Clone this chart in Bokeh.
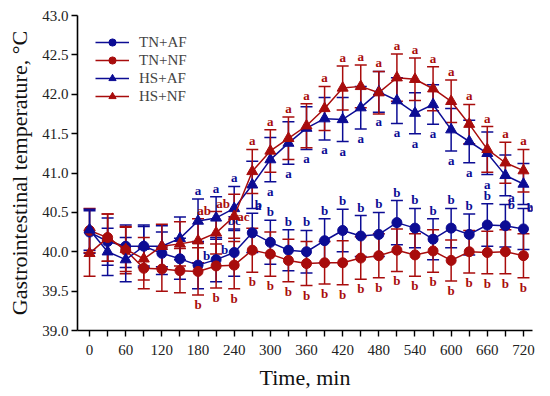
from bokeh.plotting import figure
from bokeh.models import (ColumnDataSource, Whisker, FixedTicker, Legend, LegendItem,
                          NumeralTickFormatter)
from bokeh.core.properties import value
from bokeh.embed import file_html
from bokeh.resources import INLINE

# ---------------- data ----------------
times = [0, 30, 60, 90, 120, 150, 180, 210, 240, 270, 300, 330, 360,
         390, 420, 450, 480, 510, 540, 570, 600, 630, 660, 690, 720]

tn_af = [40.25, 40.13, 40.07, 40.07, 39.98, 39.91, 39.83, 39.90, 39.99, 40.24, 40.12, 40.02, 40.00,
         40.14, 40.27, 40.20, 40.22, 40.37, 40.30, 40.16, 40.30, 40.22, 40.34, 40.33, 40.29]
tn_af_se = [0.27, 0.30, 0.27, 0.25, 0.27, 0.26, 0.30, 0.28, 0.30, 0.25, 0.28, 0.26, 0.27,
            0.28, 0.27, 0.26, 0.28, 0.28, 0.25, 0.26, 0.25, 0.26, 0.27, 0.27, 0.26]

tn_nf = [40.27, 40.18, 40.02, 39.79, 39.78, 39.76, 39.75, 39.82, 39.83, 40.02, 39.97, 39.89, 39.85,
         39.86, 39.86, 39.92, 39.95, 40.02, 39.96, 40.01, 39.89, 40.00, 39.99, 40.00, 39.95]
tn_nf_se = [0.28, 0.30, 0.30, 0.26, 0.28, 0.28, 0.30, 0.28, 0.30, 0.28, 0.28, 0.27, 0.28,
            0.27, 0.28, 0.27, 0.28, 0.27, 0.27, 0.27, 0.26, 0.27, 0.27, 0.28, 0.28]

hs_af = [40.28, 40.00, 39.90, 40.07, 40.07, 40.17, 40.39, 40.43, 40.55, 40.85, 41.17, 41.38, 41.57,
         41.69, 41.68, 41.83, 42.03, 41.92, 41.76, 41.87, 41.55, 41.40, 41.25, 40.97, 40.86]
hs_af_se = [0.26, 0.30, 0.28, 0.27, 0.26, 0.27, 0.28, 0.27, 0.28, 0.30, 0.28, 0.27, 0.27,
            0.27, 0.28, 0.27, 0.26, 0.29, 0.26, 0.25, 0.27, 0.27, 0.27, 0.26, 0.26]

hs_nf = [39.98, 40.18, 40.03, 39.91, 40.07, 40.10, 40.14, 40.24, 40.45, 41.02, 41.28, 41.44, 41.60,
         41.82, 42.08, 42.10, 42.02, 42.21, 42.19, 42.07, 41.91, 41.62, 41.30, 41.13, 41.03]
hs_nf_se = [0.29, 0.30, 0.28, 0.27, 0.28, 0.28, 0.28, 0.27, 0.28, 0.28, 0.27, 0.27, 0.28,
            0.28, 0.28, 0.27, 0.27, 0.30, 0.27, 0.28, 0.27, 0.25, 0.29, 0.26, 0.27]

# significance letters (times 180 .. 720)
letter_times = times[6:]
tn_af_letters = ["b", "b", "bc"] + ["b"] * 16
tn_nf_letters = ["b"] * 19
hs_af_letters = ["a"] * 19
hs_nf_letters = ["ab", "ab", "ac"] + ["a"] * 16

x_ticks = list(range(0, 721, 60))
y_ticks = [39.0, 39.5, 40.0, 40.5, 41.0, 41.5, 42.0, 42.5, 43.0]

# ---------------- styling ----------------
BLUE = "#0c0c94"
RED = "#a80c0c"
SERIF = "Liberation Serif"

p = figure(width=550, height=396, x_range=(-20, 735), y_range=(39.0, 43.0),
           output_backend="svg", toolbar_location=None,
           min_border_left=77, min_border_right=18, min_border_top=15, min_border_bottom=66)
p.outline_line_color = None
p.xgrid.visible = False
p.ygrid.visible = False

for ax in (p.xaxis[0], p.yaxis[0]):
    ax.axis_line_width = 1.6
    ax.major_tick_line_width = 1.4
    ax.major_tick_out = 6
    ax.major_tick_in = 0
    ax.minor_tick_line_color = None
    ax.major_label_text_font = SERIF
    ax.major_label_text_font_size = "15px"
    ax.major_label_text_color = "#222222"
    ax.axis_label_text_font = SERIF
    ax.axis_label_text_font_size = "22px"
    ax.axis_label_text_font_style = "normal"
    ax.axis_label_text_color = "#111111"

all_x_ticks = times
p.xaxis.ticker = FixedTicker(ticks=all_x_ticks)
p.xaxis.major_label_overrides = {t: (str(t) if t in x_ticks else "") for t in all_x_ticks}
p.xaxis.major_label_standoff = 8
p.xaxis.axis_label = "Time, min"
p.xaxis.axis_label_standoff = 7

p.yaxis.ticker = FixedTicker(ticks=y_ticks)
p.yaxis.formatter = NumeralTickFormatter(format="0.0")
p.yaxis.major_label_standoff = 3
p.yaxis.axis_label = "Gastrointestinal temperature, \u00b0C"
p.yaxis.axis_label_standoff = 7

series = [
    ("TN+AF", tn_af, tn_af_se, BLUE, "circle", tn_af_letters, "above"),
    ("TN+NF", tn_nf, tn_nf_se, RED, "circle", tn_nf_letters, "below"),
    ("HS+AF", hs_af, hs_af_se, BLUE, "triangle", hs_af_letters, "below"),
    ("HS+NF", hs_nf, hs_nf_se, RED, "triangle", hs_nf_letters, "above"),
]

# placement tweaks for crowded letters: (series, time) -> (mode, dx px, dy px)
tweaks = {
    ("TN+AF", 180): ("right", 5, -10),
    ("TN+AF", 210): ("right", 5, -10),
    ("TN+AF", 270): ("above", 6, 0),
    ("TN+AF", 690): ("above", 6, 8),
    ("TN+AF", 720): ("above", 7, 8),
    ("HS+AF", 180): ("above", 0, 0),
    ("HS+AF", 210): ("above", 0, 0),
    ("HS+AF", 240): ("above", 0, 0),
    ("HS+AF", 270): ("below", 6, -12),
    ("HS+AF", 690): ("below", 6, -8),
    ("HS+AF", 720): ("below", 7, -8),
    ("HS+NF", 180): ("above", 6, 0),
    ("HS+NF", 210): ("above", 7, 0),
    ("HS+NF", 240): ("right", 3, 0),
}

legend_items = []
for name, vals, se, col, marker, letters, mode in series:
    upper = [v + e for v, e in zip(vals, se)]
    lower = [v - e for v, e in zip(vals, se)]
    src = ColumnDataSource(dict(x=times, y=vals, upper=upper, lower=lower))
    w = Whisker(base="x", upper="upper", lower="lower", source=src,
                line_color=col, line_width=1.5)
    for head in (w.upper_head, w.lower_head):
        head.size = 12
        head.line_color = col
        head.line_width = 1.5
    p.add_layout(w)
    ln = p.line("x", "y", source=src, line_color=col, line_width=1.5)
    sc = p.scatter("x", "y", source=src, marker=marker, size=10 if marker == "circle" else 11,
                   fill_color=col, line_color=col)
    legend_items.append(LegendItem(label=name, renderers=[ln, sc]))

    groups = {"above": dict(x=[], y=[], t=[], dx=[], dy=[]),
              "below": dict(x=[], y=[], t=[], dx=[], dy=[]),
              "right": dict(x=[], y=[], t=[], dx=[], dy=[])}
    for t, lt in zip(letter_times, letters):
        i = times.index(t)
        m, dx, dy = tweaks.get((name, t), (mode, 0, 0))
        yy = upper[i] if m == "above" else (lower[i] if m == "below" else vals[i])
        g = groups[m]
        g["x"].append(t); g["y"].append(yy); g["t"].append(lt)
        g["dx"].append(dx); g["dy"].append(dy)
    for m, g in groups.items():
        if not g["x"]:
            continue
        base = {"above": "bottom", "below": "top", "right": "middle"}[m]
        align = "left" if m == "right" else "center"
        extra = {"above": -1, "below": 2, "right": 0}[m]
        tsrc = ColumnDataSource(dict(x=g["x"], y=g["y"], t=g["t"], dx=g["dx"],
                                     dy=[d + extra for d in g["dy"]]))
        p.text("x", "y", text="t", source=tsrc, x_offset="dx", y_offset="dy",
               text_color=col, text_font=value(SERIF),
               text_font_size="13px", text_font_style="bold",
               text_baseline=base, text_align=align)

legend = Legend(items=legend_items, location=(18, 225), margin=0, padding=0,
                border_line_color=None, background_fill_alpha=0,
                label_text_font=SERIF, label_text_font_size="15px",
                glyph_width=34, glyph_height=18, label_height=18, spacing=0,
                label_standoff=10)
p.add_layout(legend)

open("out.html", "w").write(file_html(p, INLINE))
